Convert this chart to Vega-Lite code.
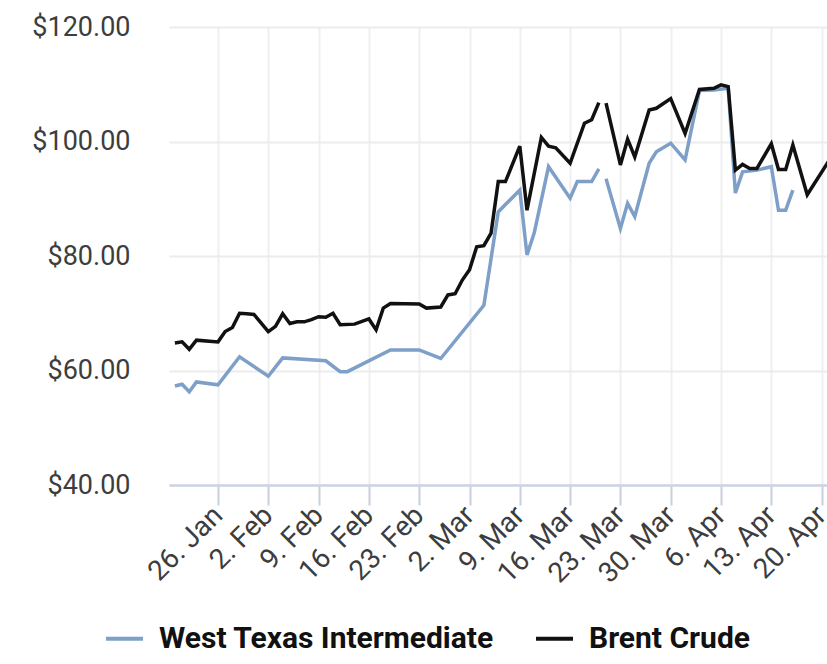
{
  "$schema": "https://vega.github.io/schema/vega-lite/v6.json",
  "width": 658,
  "height": 458,
  "autosize": {"type": "none"},
  "padding": {"left": 169, "top": 27, "right": 0, "bottom": 179},
  "background": "white",
  "config": {
    "view": {"stroke": null},
    "font": "Roboto"
  },
  "datasets": {
    "prices": [
      {"date": "2026-01-20", "series": "West Texas Intermediate", "price": 57.3},
      {"date": "2026-01-21", "series": "West Texas Intermediate", "price": 57.6},
      {"date": "2026-01-22", "series": "West Texas Intermediate", "price": 56.3},
      {"date": "2026-01-23", "series": "West Texas Intermediate", "price": 58.0},
      {"date": "2026-01-26", "series": "West Texas Intermediate", "price": 57.5},
      {"date": "2026-01-29", "series": "West Texas Intermediate", "price": 62.4},
      {"date": "2026-02-02", "series": "West Texas Intermediate", "price": 59.0},
      {"date": "2026-02-04", "series": "West Texas Intermediate", "price": 62.2},
      {"date": "2026-02-10", "series": "West Texas Intermediate", "price": 61.7},
      {"date": "2026-02-12", "series": "West Texas Intermediate", "price": 59.8},
      {"date": "2026-02-13", "series": "West Texas Intermediate", "price": 59.8},
      {"date": "2026-02-19", "series": "West Texas Intermediate", "price": 63.6},
      {"date": "2026-02-23", "series": "West Texas Intermediate", "price": 63.6},
      {"date": "2026-02-26", "series": "West Texas Intermediate", "price": 62.1},
      {"date": "2026-03-04", "series": "West Texas Intermediate", "price": 71.4},
      {"date": "2026-03-06", "series": "West Texas Intermediate", "price": 87.7},
      {"date": "2026-03-07", "series": "West Texas Intermediate", "price": 89.0},
      {"date": "2026-03-09", "series": "West Texas Intermediate", "price": 91.5},
      {"date": "2026-03-10", "series": "West Texas Intermediate", "price": 80.2},
      {"date": "2026-03-11", "series": "West Texas Intermediate", "price": 84.0},
      {"date": "2026-03-13", "series": "West Texas Intermediate", "price": 95.6},
      {"date": "2026-03-16", "series": "West Texas Intermediate", "price": 90.1},
      {"date": "2026-03-17", "series": "West Texas Intermediate", "price": 93.0},
      {"date": "2026-03-19", "series": "West Texas Intermediate", "price": 93.0},
      {"date": "2026-03-20", "series": "West Texas Intermediate", "price": 95.2},
      {"date": "2026-03-20T12:00:00Z", "series": "West Texas Intermediate", "price": null},
      {"date": "2026-03-21", "series": "West Texas Intermediate", "price": 93.5},
      {"date": "2026-03-23", "series": "West Texas Intermediate", "price": 84.8},
      {"date": "2026-03-24", "series": "West Texas Intermediate", "price": 89.2},
      {"date": "2026-03-25", "series": "West Texas Intermediate", "price": 86.9},
      {"date": "2026-03-27", "series": "West Texas Intermediate", "price": 96.2},
      {"date": "2026-03-28", "series": "West Texas Intermediate", "price": 98.2},
      {"date": "2026-03-30", "series": "West Texas Intermediate", "price": 99.7},
      {"date": "2026-04-01", "series": "West Texas Intermediate", "price": 96.8},
      {"date": "2026-04-03", "series": "West Texas Intermediate", "price": 108.9},
      {"date": "2026-04-05", "series": "West Texas Intermediate", "price": 109.0},
      {"date": "2026-04-07", "series": "West Texas Intermediate", "price": 109.3},
      {"date": "2026-04-08", "series": "West Texas Intermediate", "price": 91.0},
      {"date": "2026-04-09", "series": "West Texas Intermediate", "price": 94.7},
      {"date": "2026-04-11", "series": "West Texas Intermediate", "price": 95.0},
      {"date": "2026-04-13", "series": "West Texas Intermediate", "price": 95.6},
      {"date": "2026-04-14", "series": "West Texas Intermediate", "price": 88.0},
      {"date": "2026-04-15", "series": "West Texas Intermediate", "price": 88.0},
      {"date": "2026-04-16", "series": "West Texas Intermediate", "price": 91.5},

      {"date": "2026-01-20", "series": "Brent Crude", "price": 64.8},
      {"date": "2026-01-21", "series": "Brent Crude", "price": 65.0},
      {"date": "2026-01-22", "series": "Brent Crude", "price": 63.7},
      {"date": "2026-01-23", "series": "Brent Crude", "price": 65.3},
      {"date": "2026-01-26", "series": "Brent Crude", "price": 65.0},
      {"date": "2026-01-27", "series": "Brent Crude", "price": 66.8},
      {"date": "2026-01-28", "series": "Brent Crude", "price": 67.5},
      {"date": "2026-01-29", "series": "Brent Crude", "price": 70.0},
      {"date": "2026-01-30", "series": "Brent Crude", "price": 69.9},
      {"date": "2026-01-31", "series": "Brent Crude", "price": 69.8},
      {"date": "2026-02-02", "series": "Brent Crude", "price": 66.8},
      {"date": "2026-02-03", "series": "Brent Crude", "price": 67.7},
      {"date": "2026-02-04", "series": "Brent Crude", "price": 69.9},
      {"date": "2026-02-05", "series": "Brent Crude", "price": 68.2},
      {"date": "2026-02-06", "series": "Brent Crude", "price": 68.5},
      {"date": "2026-02-07", "series": "Brent Crude", "price": 68.5},
      {"date": "2026-02-08", "series": "Brent Crude", "price": 68.9},
      {"date": "2026-02-09", "series": "Brent Crude", "price": 69.4},
      {"date": "2026-02-10", "series": "Brent Crude", "price": 69.3},
      {"date": "2026-02-11", "series": "Brent Crude", "price": 70.0},
      {"date": "2026-02-12", "series": "Brent Crude", "price": 68.0},
      {"date": "2026-02-14", "series": "Brent Crude", "price": 68.1},
      {"date": "2026-02-16", "series": "Brent Crude", "price": 69.0},
      {"date": "2026-02-17", "series": "Brent Crude", "price": 67.1},
      {"date": "2026-02-18", "series": "Brent Crude", "price": 70.9},
      {"date": "2026-02-19", "series": "Brent Crude", "price": 71.7},
      {"date": "2026-02-23", "series": "Brent Crude", "price": 71.6},
      {"date": "2026-02-24", "series": "Brent Crude", "price": 70.9},
      {"date": "2026-02-26", "series": "Brent Crude", "price": 71.1},
      {"date": "2026-02-27", "series": "Brent Crude", "price": 73.2},
      {"date": "2026-02-28", "series": "Brent Crude", "price": 73.4},
      {"date": "2026-03-01", "series": "Brent Crude", "price": 75.8},
      {"date": "2026-03-02", "series": "Brent Crude", "price": 77.6},
      {"date": "2026-03-03", "series": "Brent Crude", "price": 81.6},
      {"date": "2026-03-04", "series": "Brent Crude", "price": 81.8},
      {"date": "2026-03-05", "series": "Brent Crude", "price": 84.0},
      {"date": "2026-03-06", "series": "Brent Crude", "price": 93.0},
      {"date": "2026-03-07", "series": "Brent Crude", "price": 93.0},
      {"date": "2026-03-09", "series": "Brent Crude", "price": 99.2},
      {"date": "2026-03-10", "series": "Brent Crude", "price": 88.0},
      {"date": "2026-03-12", "series": "Brent Crude", "price": 100.7},
      {"date": "2026-03-13", "series": "Brent Crude", "price": 99.2},
      {"date": "2026-03-14", "series": "Brent Crude", "price": 98.9},
      {"date": "2026-03-16", "series": "Brent Crude", "price": 96.2},
      {"date": "2026-03-18", "series": "Brent Crude", "price": 103.2},
      {"date": "2026-03-19", "series": "Brent Crude", "price": 103.8},
      {"date": "2026-03-20", "series": "Brent Crude", "price": 106.8},
      {"date": "2026-03-20T12:00:00Z", "series": "Brent Crude", "price": null},
      {"date": "2026-03-21", "series": "Brent Crude", "price": 106.7},
      {"date": "2026-03-23", "series": "Brent Crude", "price": 95.9},
      {"date": "2026-03-24", "series": "Brent Crude", "price": 100.4},
      {"date": "2026-03-25", "series": "Brent Crude", "price": 97.3},
      {"date": "2026-03-27", "series": "Brent Crude", "price": 105.5},
      {"date": "2026-03-28", "series": "Brent Crude", "price": 105.8},
      {"date": "2026-03-30", "series": "Brent Crude", "price": 107.5},
      {"date": "2026-04-01", "series": "Brent Crude", "price": 101.4},
      {"date": "2026-04-03", "series": "Brent Crude", "price": 109.1},
      {"date": "2026-04-05", "series": "Brent Crude", "price": 109.3},
      {"date": "2026-04-06", "series": "Brent Crude", "price": 109.9},
      {"date": "2026-04-07", "series": "Brent Crude", "price": 109.6},
      {"date": "2026-04-08", "series": "Brent Crude", "price": 95.0},
      {"date": "2026-04-09", "series": "Brent Crude", "price": 96.0},
      {"date": "2026-04-10", "series": "Brent Crude", "price": 95.3},
      {"date": "2026-04-11", "series": "Brent Crude", "price": 95.3},
      {"date": "2026-04-13", "series": "Brent Crude", "price": 99.6},
      {"date": "2026-04-14", "series": "Brent Crude", "price": 95.1},
      {"date": "2026-04-15", "series": "Brent Crude", "price": 95.1},
      {"date": "2026-04-16", "series": "Brent Crude", "price": 99.4},
      {"date": "2026-04-18", "series": "Brent Crude", "price": 90.7},
      {"date": "2026-04-21", "series": "Brent Crude", "price": 96.6}
    ]
  },
  "data": {"name": "prices"},
  "encoding": {
    "x": {
      "field": "date",
      "type": "temporal",
      "scale": {
        "type": "utc",
        "domain": [
          {"year": 2026, "month": 1, "date": 19, "hours": 4, "minutes": 20, "utc": true},
          {"year": 2026, "month": 4, "date": 20, "hours": 18, "utc": true}
        ]
      },
      "axis": {
        "title": null,
        "values": [
          {"year": 2026, "month": 1, "date": 26, "utc": true},
          {"year": 2026, "month": 2, "date": 2, "utc": true},
          {"year": 2026, "month": 2, "date": 9, "utc": true},
          {"year": 2026, "month": 2, "date": 16, "utc": true},
          {"year": 2026, "month": 2, "date": 23, "utc": true},
          {"year": 2026, "month": 3, "date": 2, "utc": true},
          {"year": 2026, "month": 3, "date": 9, "utc": true},
          {"year": 2026, "month": 3, "date": 16, "utc": true},
          {"year": 2026, "month": 3, "date": 23, "utc": true},
          {"year": 2026, "month": 3, "date": 30, "utc": true},
          {"year": 2026, "month": 4, "date": 6, "utc": true},
          {"year": 2026, "month": 4, "date": 13, "utc": true},
          {"year": 2026, "month": 4, "date": 20, "utc": true}
        ],
        "format": "%-d. %b",
        "labelAngle": -45,
        "labelAlign": "right",
        "labelBaseline": "middle",
        "labelFontSize": 28,
        "labelColor": "#3d3d3d",
        "labelPadding": 6,
        "labelOverlap": false,
        "labelFlush": false,
        "tickSize": 20,
        "tickWidth": 2,
        "tickColor": "#c8cfdc",
        "domainColor": "#ccd3e3",
        "domainWidth": 2.5,
        "grid": true,
        "gridColor": "#efefef",
        "gridWidth": 2
      }
    },
    "y": {
      "field": "price",
      "type": "quantitative",
      "scale": {"domain": [40, 120], "nice": false, "zero": false},
      "axis": {
        "title": null,
        "values": [40, 60, 80, 100, 120],
        "format": "$,.2f",
        "labelFontSize": 27,
        "labelColor": "#3d3d3d",
        "labelPadding": 39,
        "domain": false,
        "ticks": false,
        "grid": true,
        "gridColor": "#ececec",
        "gridWidth": 2
      }
    },
    "color": {
      "field": "series",
      "type": "nominal",
      "scale": {
        "domain": ["West Texas Intermediate", "Brent Crude"],
        "range": ["#7d9fc8", "#111111"]
      },
      "legend": {
        "title": null,
        "orient": "none",
        "legendX": -65,
        "legendY": 591,
        "direction": "horizontal",
        "symbolType": "stroke",
        "symbolSize": 1369,
        "symbolStrokeWidth": 4,
        "labelFont": "Roboto",
        "labelFontWeight": "bold",
        "labelFontSize": 30,
        "labelColor": "#111111",
        "labelOffset": 14,
        "columnPadding": 34,
        "padding": 0,
        "labelLimit": 500
      }
    }
  },
  "layer": [
    {
      "transform": [{"filter": "datum.series === 'West Texas Intermediate'"}],
      "mark": {"type": "line", "strokeWidth": 3.5, "clip": true, "invalid": "break-paths-filter-domains"}
    },
    {
      "transform": [{"filter": "datum.series === 'Brent Crude'"}],
      "mark": {"type": "line", "strokeWidth": 3.5, "clip": true, "invalid": "break-paths-filter-domains"}
    }
  ]
}
